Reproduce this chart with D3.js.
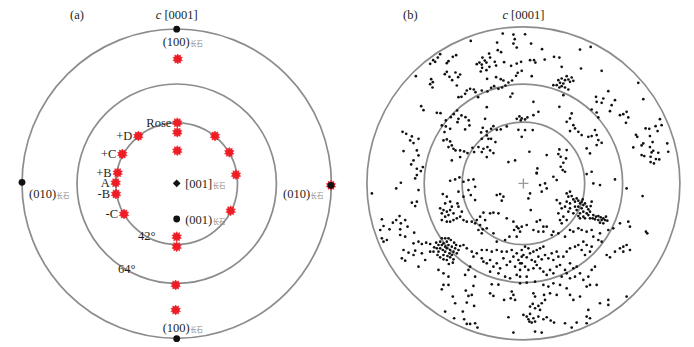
<!DOCTYPE html>
<html><head><meta charset="utf-8">
<script src="https://cdn.jsdelivr.net/npm/d3@7"></script>
<style>body{margin:0;background:#fff}svg{display:block}</style>
</head><body>
<svg id="chart" width="694" height="347"></svg>
<script>
// ---------------- DATA ----------------
// Panel (a): stereographic units, primitive circle radius = 154.7
const ringsA = [154.7, 99.7, 60.8];
const ringLabelsA = ["42°", "64°"];
const starsA = [[1,-124.7],[0.6,-61],[0.6,-51.4],[0.6,-33],[-38.4,-47.7],[-54.4,-29.7],[-59,-11],[-61,-1],[-60.7,10.3],[-52.7,30.3],
  [38.3,-47.7],[52.6,-31.4],[59.3,-9],[54,27],[0,53],[0,63],[-1,101.3],[-1,126.3],[154.3,1.6]];
const starLabelText = ["Rose","+D","+C","+B","A","-B","-C"];
const starLabelIdx = [1,4,5,6,7,8,9];
const polesA = [[0,-154.5],[0,155],[-154.7,-1.4],[154.3,1.6],[0,-0.4],[0,35.3]];
const poleKind = ["dot","dot","dot","dot","diamond","dot"];
const poleNames = ["(100)","(100)","(010)","(010)","[001]","(001)"];
const mineral = "长石";
const axisTitle = ["c"," [0001]"];
const panelTags = ["(a)","(b)"];

// Panel (b): stereographic units, primitive circle radius = 470
const ringsB = [470, 298, 184];
const dotsNW = [[-158,-428],[-79,-423],[-62,-450],[-30,-447],[-26,-433],[-30,-420],[-20,-408],[-77,-400],[-67,-394],[-103,-390],[-100,-378],[-123,-378],[-116,-369],[-132,-363],[-140,-358],[-125,-357],[-111,-363],[-86,-365],[-82,-354],[-58,-364],[-37,-353],[-20,-360],[-124,-347],[-128,-336],[-111,-340],[-102,-350],[-109,-314],[-82,-319],[-68,-313],[-60,-309],[-45,-303],[-34,-309],[-22,-323],[-17,-332],
[-250,-388],[-257,-378],[-265,-365],[-280,-359],[-271,-370],[-212,-380],[-225,-367],[-230,-361],[-202,-385],[-323,-322],[-277,-313],[-272,-304],[-280,-298],[-273,-288],[-230,-335],[-236,-328],[-204,-333],[-222,-320],[-214,-310],[-196,-319],[-190,-327],[-200,-294],
[-195,-259],[-186,-260],[-170,-279],[-175,-269],[-160,-284],[-149,-282],[-144,-274],[-136,-259],[-125,-279],[-108,-276],[-97,-287],[-88,-292],[-75,-284],[-64,-288],[-54,-294],[-39,-260],[-33,-270],
[-307,-232],[-300,-220],[-260,-212],[-249,-211],[-233,-189],[-245,-174],[-233,-171],[-218,-199],[-209,-208],[-199,-219],[-195,-194],[-198,-184],[-186,-204],[-174,-199],[-164,-189],[-162,-174],[-175,-162],[-220,-164],[-110,-229],[-115,-194],[-122,-167],[-127,-153],[-110,-156],[-97,-164],[-90,-172],[-80,-161],[-68,-162],[-50,-171],[-110,-144],[-125,-134],[-105,-134],[-97,-134],[-84,-124],[-20,-194],[-12,-201],[-8,-189],[-15,-161],
[-363,-155],[-352,-149],[-335,-141],[-340,-129],[-330,-121],[-315,-134],[-360,-97],[-320,-99],[-315,-84],[-330,-69],[-337,-57],[-320,-44],[-308,-37],[-302,-49],
[-237,-154],[-240,-129],[-230,-132],[-220,-126],[-215,-114],[-225,-109],[-210,-104],[-204,-99],[-190,-99],[-178,-96],[-168,-91],[-153,-107],[-148,-94],[-135,-109],[-120,-104],[-108,-109],[-100,-99],[-90,-91],[-110,-79],[-125,-94],[-215,-69],[-190,-79],[-45,-64],[-25,-69]];
const dotsNE = [[5,-448],[23,-420],[56,-403],[-7,-365],[20,-370],[32,-370],[36,-363],[64,-372],[92,-380],[108,-378],[115,-350],[170,-402],[202,-410],[173,-345],[25,-322],[-5,-338],
[105,-310],[110,-302],[115,-315],[120,-300],[125,-310],[130,-322],[135,-312],[140,-305],[145,-318],[150,-308],[115,-292],[125,-288],[135,-282],[100,-295],[108,-288],[120,-265],[90,-295],
[235,-338],[218,-260],[220,-245],[205,-222],[220,-213],[225,-198],
[30,-245],[108,-230],[45,-215],[30,-205],[12,-198],[5,-192],[-5,-195],
[145,-210],[140,-195],[130,-185],[150,-175],[155,-165],[165,-155],[140,-157],[175,-145],
[215,-160],[205,-142],[195,-140],[220,-145],[225,-130],[220,-115],[190,-105],[200,-90],
[28,-160],[5,-160],[-5,-140],[18,-95],[70,-85],[108,-102],[105,-88],[112,-80],[130,-100],[128,-75],[120,-62],[112,-50],[118,-40],[42,-45],[40,-32]];
const dotsE = [[345,-302],[360,-253],[255,-277],[240,-255],[275,-250],[265,-235],[235,-242],[260,-217],[290,-205],[300,-208],[310,-215],[315,-198],[308,-182],[410,-193],[397,-172],[415,-175],[378,-164],[367,-165],[403,-157],[338,-146],[342,-140],[380,-142],[360,-120],[355,-114],[388,-124],[432,-120],[330,-108],[380,-109],[390,-98],[385,-93],[405,-92],[435,-95],[355,-85],[363,-82],[382,-80],[398,-73],[408,-72],[382,-64],[392,-60],[235,-122]];
const dotsSW = [[-320,-25],[-325,-15],[-368,-2],[-382,15],[-455,30],[-315,20],[-335,58],[-320,55],[-325,68],
[-425,108],[-420,128],[-430,140],[-402,138],[-392,118],[-382,110],[-372,98],[-368,120],[-355,110],[-370,138],[-348,130],
[-425,165],[-410,170],[-420,175],[-370,155],[-355,160],[-328,148],[-315,175],[-330,180],[-305,182],[-292,178],[-280,182],
[-360,200],[-345,208],[-365,225],[-355,232],[-325,202],[-330,215],[-315,250],[-305,210],[-295,230],[-280,205],[-268,192],[-262,178],
[-250,175],[-245,185],[-240,180],[-235,190],[-230,175],[-230,195],[-225,185],[-220,200],[-215,190],[-222,210],[-235,205],[-242,200],[-250,195],[-255,205],[-240,215],[-228,218],[-215,215],[-210,205],[-205,195],[-202,185],[-208,178],[-218,170],[-225,165],[-235,165],[-245,165],[-255,185],[-260,195],[-220,222],[-230,230],[-210,228],[-200,210],[-195,200],[-190,188],[-240,228],[-250,222],[-258,215],[-212,238],[-224,242],
[-242,32],[-230,40],[-220,55],[-235,60],[-250,75],[-240,80],[-230,85],[-245,90],[-235,100],[-225,95],[-220,80],[-215,70],[-210,90],[-245,110],[-230,115],[-220,115],[-210,110],[-200,105],[-190,100],[-180,110],[-170,115],[-185,85],[-195,70],[-198,60],
[-220,-8],[-205,-12],[-192,-18],[-180,-5],[-165,-10],[-150,-12],[-145,10],[-165,20],[-158,35],[-145,50],[-180,40],[-195,25],
[-80,35],[-70,32],[-60,40],[-65,52],[-100,90],[-90,88],[-75,90],[-120,88],[-130,100],[-140,110],[-155,115],[-145,120],[-130,125],[-115,110],[-122,138],[-135,140],[-125,150],[-110,135],[-50,105],[-30,115],[-20,130],[-28,140],[-15,135],[-20,160],[-42,160],[-55,170],[-90,150],[-80,175],
[-180,185],[-170,195],[-155,205],[-150,220],[-140,210],[-125,225],[-120,235],[-110,240],[-100,230],[-90,250],[-80,240],[-70,255],[-60,225],[-50,245],[-40,235],[-30,220],[-25,250],[-15,230],[-10,240],[-5,220],[-20,210],[-35,200],[-50,205],[-65,205],[-80,200],[-95,205],[-110,200],[-125,200],[-100,265],[-75,270],[-55,280],[-40,285],[-20,275],[-10,260],[-160,250],[-165,260],[-175,275],[-145,280],
[-255,260],[-240,270],[-225,280],[-270,205]];
const dotsSE = [[40,-30],[90,-20],[100,-10],[125,-35],[190,-28],[205,-35],[210,0],[230,5],[275,-12],[310,15],[358,38],[368,145],[372,150],
[20,30],[15,45],[50,5],[65,0],[70,15],[55,25],[22,80],[40,115],[50,110],[60,130],[45,145],[30,140],[10,125],[-5,130],[-10,145],
[130,30],[140,25],[135,40],[145,38],[150,48],[155,55],[160,45],[165,52],[170,60],[175,55],[180,65],[185,60],[190,70],[195,78],[200,85],[190,90],[180,85],[175,75],[165,70],[160,80],[170,90],[180,100],[165,98],[150,90],[155,70],[140,60],[130,55],[125,70],[140,75],[135,85],[195,95],[200,105],[185,105],[170,105],[110,60],[115,75],[105,90],[120,100],[130,110],[110,110],[115,120],[100,50],[205,55],[202,68],[178,48],
[210,95],[218,100],[225,98],[232,102],[240,105],[245,110],[252,112],[248,100],[235,110],[225,110],[215,108],[240,120],[230,118],[208,105],
[60,145],[70,130],[85,155],[90,145],[105,150],[125,160],[140,140],[150,145],[165,135],[175,140],[190,145],[205,140],[230,150],[255,140],[270,135],[290,120],[315,115],[320,130],[210,160],[225,170],[235,175],[250,215],[260,222],[290,195],[300,190],[310,185],[320,200],[300,205],[275,205],
[-5,200],[5,190],[15,195],[0,215],[10,222],[20,210],[30,205],[40,200],[50,195],[60,190],[25,230],[35,235],[45,220],[55,228],[65,215],[75,225],[85,210],[90,230],[100,205],[105,220],[-5,240],[5,250],[15,260],[30,255],[40,245],[50,255],[60,265],[70,275],[80,260],[90,270],[100,250],[110,245],[120,220],[130,205],[140,195],[155,190],[165,185],[175,200],[185,215],[200,205],[205,190],[190,185],[180,175],[140,240],[150,255],[160,250],[170,270],[155,280],[140,285],[130,270],[125,260],[115,280],[180,290],[195,280],[205,260],[215,250],[-10,280],[10,280],
[170,340],[190,310],[200,305],[220,305],[230,360],[255,350],[255,365],[310,340],[195,380],[190,400],[200,405],[190,420]];
const dotsS = [[-240,305],[-225,305],[-245,318],[-150,308],[-173,322],[-155,335],[-165,338],[-212,340],[-205,360],[-170,358],[-148,368],[-235,385],[-182,385],[-208,405],[-178,408],[-170,422],[-160,422],[-145,420],[-138,433],[-95,303],[-75,304],[-90,338],[-100,330],[-35,325],[-30,335],[-38,345],[-25,350],[-58,350],[-45,402],[0,395],[10,400],[20,392],[15,408],[30,405],[25,418],[18,415],[35,415],[45,400],[60,408],[70,402],[82,412],[92,418],[20,370],[28,362],[35,375],[45,368],[55,360],[50,380],[65,350],[35,340],[30,330],[62,335],[-10,300],[10,298],[35,295],[60,305],[90,300],[100,335],[130,315],[140,335],[150,350],[125,420],[160,418],[145,433],[-30,448],[35,445],[55,448],[80,330],[75,310],[110,305]];

// ---------------- DRAW ----------------
const svg = d3.select("#chart");
const FONT = "'Liberation Serif','Times New Roman',serif";
const RING = "#8c8c8c", RED = "#ee1c24", INK = "#231f20";

// scales
const cxA = 176.7, cyA = 183.7, RA = 154.7;
const xA = d3.scaleLinear().domain([-154.7, 154.7]).range([cxA - RA, cxA + RA]);
const yA = d3.scaleLinear().domain([-154.7, 154.7]).range([cyA - RA, cyA + RA]);
const rA = d => xA(d) - xA(0);
const cxB = 523.4, cyB = 183.4, RB = 156.5;
const xB = d3.scaleLinear().domain([-470, 470]).range([cxB - RB, cxB + RB]);
const yB = d3.scaleLinear().domain([-470, 470]).range([cyB - RB, cyB + RB]);
const rB = d => xB(d) - xB(0);

function starPath(R, r, n) {
  const pts = d3.range(2 * n).map(i => [i * Math.PI / n, i % 2 ? r : R]);
  return d3.lineRadial().curve(d3.curveLinearClosed)(pts);
}

// ----- panel (a)
const gA = svg.append("g");
gA.selectAll("circle.ring").data(ringsA).join("circle").attr("class","ring")
  .attr("cx", xA(0)).attr("cy", yA(0)).attr("r", d => rA(d))
  .attr("fill","none").attr("stroke",RING).attr("stroke-width",1.7);

const sp = starPath(5, 3.3, 10);
gA.selectAll("path.star").data(starsA).join("path").attr("class","star")
  .attr("d", sp).attr("transform", d => `translate(${xA(d[0])},${yA(d[1])})`)
  .attr("fill", RED).attr("stroke", RED).attr("stroke-width", 0.6);

polesA.forEach((p, i) => {
  if (poleKind[i] === "dot") {
    gA.append("circle").attr("cx", xA(p[0])).attr("cy", yA(p[1])).attr("r", 3.4).attr("fill", "#111");
  } else {
    gA.append("path").attr("d", d3.symbol(d3.symbolSquare, 30)())
      .attr("transform", `translate(${xA(p[0])},${yA(p[1])}) rotate(45)`).attr("fill", "#111");
  }
});

// pole labels (offsets from each pole in px)
const poleLabelOffset = [[-14, 17], [-14, -6.5], [7, 15.7], [-48, 12.7], [8.5, 4.7], [8.5, 4.5]];
polesA.forEach((p, i) => {
  const t = gA.append("text").attr("x", xA(p[0]) + poleLabelOffset[i][0]).attr("y", yA(p[1]) + poleLabelOffset[i][1])
    .attr("font-family", FONT).attr("font-size", 12.5).attr("fill", INK);
  t.append("tspan").text(poleNames[i]);
  t.append("tspan").text(mineral).attr("font-family", "'Noto Sans CJK SC',sans-serif")
    .attr("font-size", 6.3).attr("fill", "#888").attr("dx", 0.5);
});

// star labels
starLabelIdx.forEach((si, k) => {
  const s = starsA[si];
  gA.append("text").attr("x", xA(s[0]) - 6).attr("y", yA(s[1]) + 4.4)
    .attr("text-anchor", "end").attr("font-family", FONT).attr("font-size", 12.5).attr("fill", INK)
    .text(starLabelText[k]);
});

// ring angle labels
const ringLabelPos = [[-38.7, 56.3], [-58.7, 89.3]];
ringLabelsA.forEach((t, i) => {
  gA.append("text").attr("x", xA(ringLabelPos[i][0])).attr("y", yA(ringLabelPos[i][1]))
    .attr("font-family", FONT).attr("font-size", 12.5).attr("fill", INK).text(t);
});

// ----- panel (b)
const gB = svg.append("g");
gB.selectAll("circle.ring").data(ringsB).join("circle").attr("class","ring")
  .attr("cx", xB(0)).attr("cy", yB(0)).attr("r", d => rB(d))
  .attr("fill","none").attr("stroke",RING).attr("stroke-width",1.7);

const allDots = [].concat(dotsNW, dotsNE, dotsE, dotsSW, dotsSE, dotsS);
gB.selectAll("circle.pt").data(allDots).join("circle").attr("class","pt")
  .attr("cx", d => xB(d[0])).attr("cy", d => yB(d[1])).attr("r", 1.35).attr("fill", "#111");

// centre cross
gB.append("path").attr("d", d3.line()([[xB(0) - 5, yB(0)], [xB(0) + 5, yB(0)]]) + d3.line()([[xB(0), yB(0) - 5], [xB(0), yB(0) + 5]]))
  .attr("stroke", "#9a9a9a").attr("stroke-width", 1.4).attr("fill", "none");

// titles
[[xA(0), 70], [xB(0), 403]].forEach((c, i) => {
  const t = svg.append("text").attr("x", c[0]).attr("y", 19).attr("text-anchor", "middle")
    .attr("font-family", FONT).attr("font-size", 12.5).attr("fill", INK);
  t.append("tspan").text(axisTitle[0]).attr("font-style", "italic");
  t.append("tspan").text(axisTitle[1]);
  svg.append("text").attr("x", c[1]).attr("y", 19).attr("font-family", FONT)
    .attr("font-size", 12.5).attr("fill", INK).text(panelTags[i]);
});
</script>
</body></html>
